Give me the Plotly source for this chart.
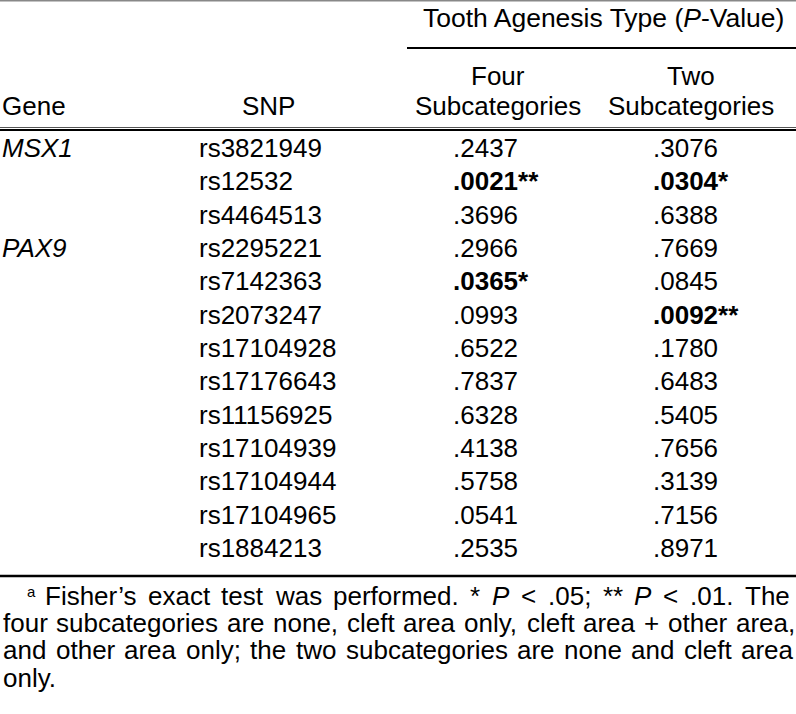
import re
import plotly.graph_objects as go

# ---------------- data ----------------
genes = ["MSX1", "", "", "PAX9", "", "", "", "", "", "", "", "", ""]
snps = ["rs3821949", "rs12532", "rs4464513", "rs2295221", "rs7142363",
        "rs2073247", "rs17104928", "rs17176643", "rs11156925", "rs17104939",
        "rs17104944", "rs17104965", "rs1884213"]
p_four = [0.2437, 0.0021, 0.3696, 0.2966, 0.0365, 0.0993, 0.6522,
          0.7837, 0.6328, 0.4138, 0.5758, 0.0541, 0.2535]
p_two = [0.3076, 0.0304, 0.6388, 0.7669, 0.0845, 0.0092, 0.1780,
         0.6483, 0.5405, 0.7656, 0.3139, 0.7156, 0.8971]

spanner = "Tooth Agenesis Type (<i>P</i>-Value)"
head_gene, head_snp = "Gene", "SNP"
head_four = ["Four", "Subcategories"]
head_two = ["Two", "Subcategories"]
foot_mark = "a"
footnote_lines = [
    "Fisher’s exact test was performed. * <i>P</i> < .05; ** <i>P</i> < .01. The",
    "four subcategories are none, cleft area only, cleft area + other area,",
    "and other area only; the two subcategories are none and cleft area",
    "only.",
]

# ---------------- layout helpers ----------------
W, H = 796, 714
FONT = "Liberation Sans, Arial, Helvetica, sans-serif"
FS = 26
row0, row_step = 148, 33.33
x_gene, x_snp, x_four, x_two = 1, 198, 452, 652
foot0, foot_step = 596, 27.2

# Arial / Liberation Sans advance widths (1/1000 em) used for justification
AW = {" ": 278, "’": 222, "'": 191, "(": 333, ")": 333, "*": 389, "+": 584,
      ",": 278, "-": 333, ".": 278, ";": 278, "<": 584,
      "a": 556, "b": 556, "c": 500, "d": 556, "e": 556, "f": 278, "g": 556,
      "h": 556, "i": 222, "j": 222, "k": 500, "l": 222, "m": 833, "n": 556,
      "o": 556, "p": 556, "q": 556, "r": 333, "s": 500, "t": 278, "u": 556,
      "v": 500, "w": 722, "x": 500, "y": 500, "z": 500, "F": 611, "P": 667,
      "T": 611}


def text_width(t, size=FS):
    plain = re.sub(r"<[^>]+>", "", t)
    return sum(AW.get(c, 556) for c in plain) * size / 1000.0


def fmt(p):
    s = f"{p:.4f}"[1:]
    stars = "**" if p < 0.01 else ("*" if p < 0.05 else "")
    if stars:
        return f"<b>{s}{stars}</b>"
    return s


fig = go.Figure()
fig.add_trace(go.Scatter(x=[0, W], y=[0, H], mode="markers",
                         marker=dict(opacity=0, size=1), hoverinfo="skip",
                         showlegend=False))

ann = []


def add(text, x, y, xanchor="left", size=FS):
    ann.append(dict(text=text, x=x, y=y, xref="x", yref="y", xanchor=xanchor,
                    yanchor="middle", showarrow=False, borderpad=0,
                    font=dict(family=FONT, size=size, color="black")))


# header
add(spanner, 603, 18, "center", size=26.5)
add(head_gene, x_gene, 106)
add(head_snp, 241, 106)
add(head_four[0], 498, 76, "center")
add(head_four[1], 498, 106, "center")
add(head_two[0], 691, 76, "center")
add(head_two[1], 691, 106, "center")

# body
for i, (g, s, a, b) in enumerate(zip(genes, snps, p_four, p_two)):
    y = row0 + i * row_step
    if g:
        add(f"<i>{g}</i>", x_gene, y)
    add(s, x_snp, y)
    add(fmt(a), x_four, y)
    add(fmt(b), x_two, y)

# footnote (justified lines)
add(foot_mark, 26, foot0 - 5, size=15)
line_spans = [(44, 789), (2, 794), (2, 792), None]
for j, line in enumerate(footnote_lines):
    y = foot0 + j * foot_step
    span = line_spans[j]
    if span is None:
        add(line, 2, y)
        continue
    words = line.split(" ")
    widths = [text_width(w) for w in words]
    gap = (span[1] - span[0] - sum(widths)) / (len(words) - 1)
    x = span[0]
    for w, wd in zip(words, widths):
        add(w, x, y)
        x += wd + gap

shapes = [
    dict(type="line", xref="x", yref="y", x0=0, x1=W, y0=0.8, y1=0.8,
         line=dict(color="#888888", width=1.5)),
    dict(type="line", xref="x", yref="y", x0=407, x1=W, y0=48, y1=48,
         line=dict(color="black", width=2)),
    dict(type="line", xref="x", yref="y", x0=0, x1=W, y0=127.5, y1=127.5,
         line=dict(color="#555555", width=1)),
    dict(type="line", xref="x", yref="y", x0=0, x1=W, y0=130, y1=130,
         line=dict(color="black", width=2)),
    dict(type="line", xref="x", yref="y", x0=0, x1=W, y0=576, y1=576,
         line=dict(color="black", width=2.5)),
]

fig.update_layout(
    width=W, height=H, margin=dict(l=0, r=0, t=0, b=0),
    paper_bgcolor="white", plot_bgcolor="white",
    xaxis=dict(range=[0, W], visible=False, fixedrange=True),
    yaxis=dict(range=[H, 0], visible=False, fixedrange=True),
    annotations=ann, shapes=shapes, showlegend=False,
)

fig.write_html("out.html", config={"displayModeBar": False},
               post_script="document.body.style.margin='0';"
                           "document.body.style.overflow='hidden';")
